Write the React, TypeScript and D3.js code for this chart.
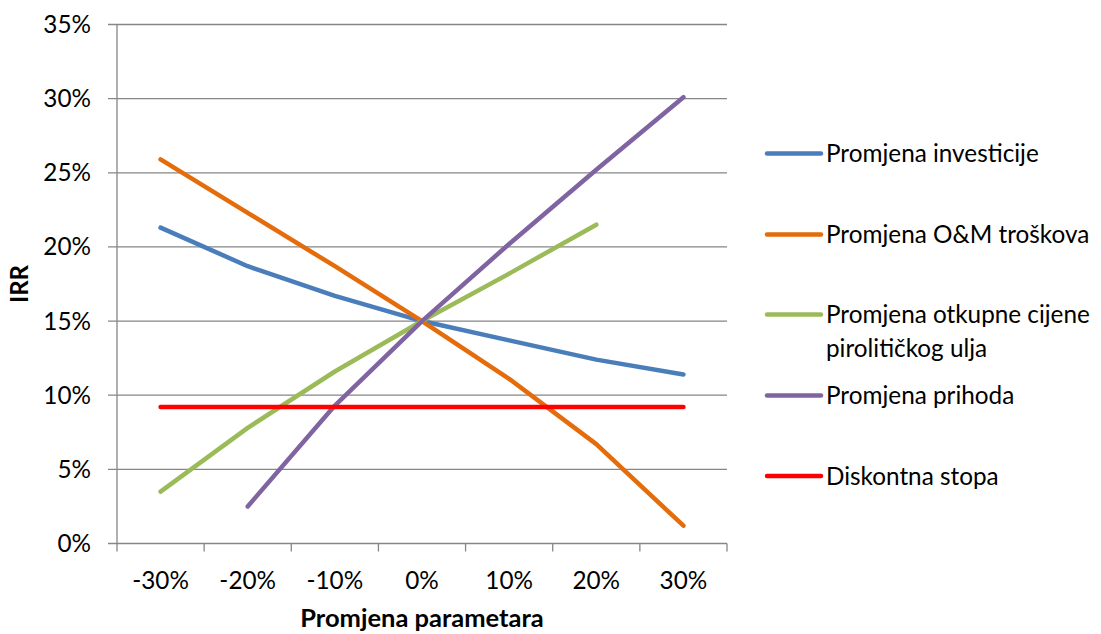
import React from "react";
import * as d3 from "d3";

const categories = ["-30%", "-20%", "-10%", "0%", "10%", "20%", "30%"];
const investicije = [21.3, 18.7, 16.7, 15.0, 13.7, 12.4, 11.4];
const omTroskovi = [25.9, 22.3, 18.7, 15.0, 11.1, 6.7, 1.2];
const otkupnaCijena: (number | null)[] = [3.5, 7.8, 11.6, 15.0, 18.2, 21.5, null];
const prihodi: (number | null)[] = [null, 2.5, 9.3, 15.0, 20.2, 25.2, 30.1];
const diskontnaStopa = [9.2, 9.2, 9.2, 9.2, 9.2, 9.2, 9.2];
const yTicks = [0, 5, 10, 15, 20, 25, 30, 35];

const seriesNames = [
  ["Promjena investicije"],
  ["Promjena O&M troškova"],
  ["Promjena otkupne cijene", "pirolitičkog ulja"],
  ["Promjena prihoda"],
  ["Diskontna stopa"],
];
const seriesValues = [investicije, omTroskovi, otkupnaCijena, prihodi, diskontnaStopa];
const colors = ["#4A7EBB", "#E46C0A", "#9BBB59", "#8064A2", "#FF0000"];
const legendY = [153.5, 234.5, 314.5, 395.5, 476];

const FONT = "Lato, 'Open Sans', sans-serif";
const FS = 24.3;

export default function App() {
  const left = 117, right = 727, top = 24.5, bottom = 543.5;
  const x = d3.scaleBand<string>().domain(categories).range([left, right]);
  const y = d3.scaleLinear().domain([0, 35]).range([bottom, top]);
  const line = d3
    .line<number | null>()
    .defined((d) => d !== null)
    .x((_, i) => (x(categories[i]) as number) + x.bandwidth() / 2)
    .y((d) => y(d as number));

  const boundaries = categories.map((c) => x(c) as number).concat([right]);

  return (
    <svg width={1101} height={634} style={{ position: "absolute", left: 0, top: 0, background: "#fff" }}>
      <rect x={0} y={0} width={1101} height={634} fill="#fff" />
      {yTicks.map((t) => (
        <g key={t}>
          <line x1={108} x2={right} y1={y(t)} y2={y(t)} stroke="#868686" strokeWidth={1.3} />
          <text x={91} y={y(t)} dy="0.35em" textAnchor="end" fontFamily={FONT} fontSize={FS} fill="#000">
            {t}%
          </text>
        </g>
      ))}
      <line x1={left} x2={left} y1={top} y2={bottom} stroke="#868686" strokeWidth={1.3} />
      {boundaries.map((b, i) => (
        <line key={i} x1={b} x2={b} y1={bottom} y2={bottom + 8} stroke="#868686" strokeWidth={1.3} />
      ))}
      {categories.map((c) => (
        <text key={c} x={(x(c) as number) + x.bandwidth() / 2} y={580} dy="0.35em" textAnchor="middle" fontFamily={FONT} fontSize={FS} fill="#000">
          {c}
        </text>
      ))}
      {seriesValues.map((vals, i) => (
        <path key={i} d={line(vals) || ""} fill="none" stroke={colors[i]} strokeWidth={4.5} strokeLinecap="round" strokeLinejoin="round" />
      ))}
      {seriesNames.map((names, i) => (
        <g key={i}>
          <line x1={767} x2={821} y1={legendY[i]} y2={legendY[i]} stroke={colors[i]} strokeWidth={4.5} strokeLinecap="round" />
          {names.map((n, j) => (
            <text key={j} x={826} y={legendY[i] + j * 34} dy="0.35em" fontFamily={FONT} fontSize={FS} fill="#000">
              {n}
            </text>
          ))}
        </g>
      ))}
      <text x={422} y={618} dy="0.35em" textAnchor="middle" fontFamily={FONT} fontSize={25.5} fontWeight="bold" fill="#000">
        Promjena parametara
      </text>
      <text transform="translate(20,284) rotate(-90)" dy="0.35em" textAnchor="middle" fontFamily={FONT} fontSize={24} fontWeight="bold" fill="#000">
        IRR
      </text>
    </svg>
  );
}
